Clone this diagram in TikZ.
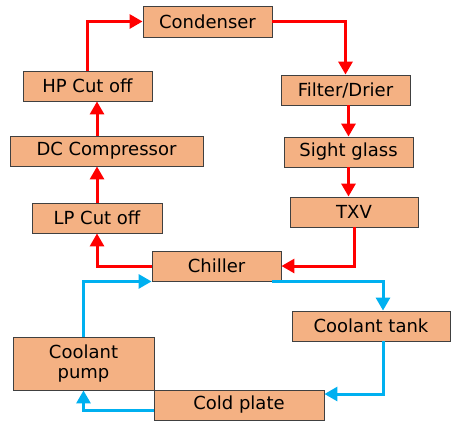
\documentclass[tikz,border=0pt]{standalone}
\usepackage{fontspec}
\setmainfont{DejaVu Sans}
\usetikzlibrary{arrows.meta,calc}
\definecolor{boxfill}{HTML}{F4B183}
\definecolor{boxline}{HTML}{404040}
\definecolor{redline}{HTML}{FF0000}
\definecolor{blueline}{HTML}{00B0F0}
\tikzset{
  blk/.style={draw=boxline, line width=0.9pt, fill=boxfill, minimum height=30pt, inner sep=0pt,
    font=\fontsize{18}{20}\selectfont, align=center},
  redarr/.style={draw=redline, line width=3pt, -{Triangle[length=13pt,width=14pt]}},
  bluearr/.style={draw=blueline, line width=3pt, -{Triangle[length=13pt,width=14pt]}},
}
\begin{document}
\begin{tikzpicture}[x=1pt,y=-1pt]
\useasboundingbox (0,0) rectangle (458,440);
\node[blk, minimum width=129pt, minimum height=31pt] (cond) at (207.5,21.5) {Condenser};
\node[blk, minimum width=129pt] (hp) at (87.5,86) {HP Cut off};
\node[blk, minimum width=193pt] (dc) at (106.5,151) {DC Compressor};
\node[blk, minimum width=130pt] (lp) at (97,218) {LP Cut off};
\node[blk, minimum width=129pt] (fd) at (345.5,90) {Filter/Drier};
\node[blk, minimum width=129pt] (sg) at (348.5,152) {Sight glass};
\node[blk, minimum width=128pt] (txv) at (354,212) {TXV};
\node[blk, minimum width=129pt] (ch) at (216.5,266) {Chiller};
\node[blk, minimum width=158pt] (ct) at (371,326) {Coolant tank};
\node[blk, minimum width=141pt, minimum height=53pt] (cp) at (83.5,363.5) {Coolant\\pump};
\node[blk, minimum width=170pt] (cold) at (239,405) {Cold plate};
% red loop
\draw[redarr] (hp.north) |- (cond.west);
\draw[redarr] (cond.east) -| (fd.north);
\draw[redarr] (sg.north |- fd.south) -- (sg.north);
\draw[redarr] (sg.south) -- (sg.south |- txv.north);
\draw[redarr] (txv.south) |- (ch.east);
\draw[redarr] (ch.west) -| (lp.south);
\draw[redarr] (lp.north) -- (lp.north |- dc.south);
\draw[redarr] (lp.north |- dc.north) -- (lp.north |- hp.south);
% blue loop
\coordinate (chse) at ($(ch.south east)+(-9,0)$);
\coordinate (ctn) at ($(ct.north)+(12,0)$);
\coordinate (cts) at ($(ct.south)+(12,0)$);
\coordinate (coldE) at ($(cold.east)+(0,-11)$);
\coordinate (coldW) at ($(cold.west)+(0,5)$);
\draw[bluearr] (cp.north) |- (ch.south west);
\draw[bluearr] (chse) -| (ctn);
\draw[bluearr] (cts) |- (coldE);
\draw[bluearr] (coldW) -| (cp.south);
\end{tikzpicture}
\end{document}
